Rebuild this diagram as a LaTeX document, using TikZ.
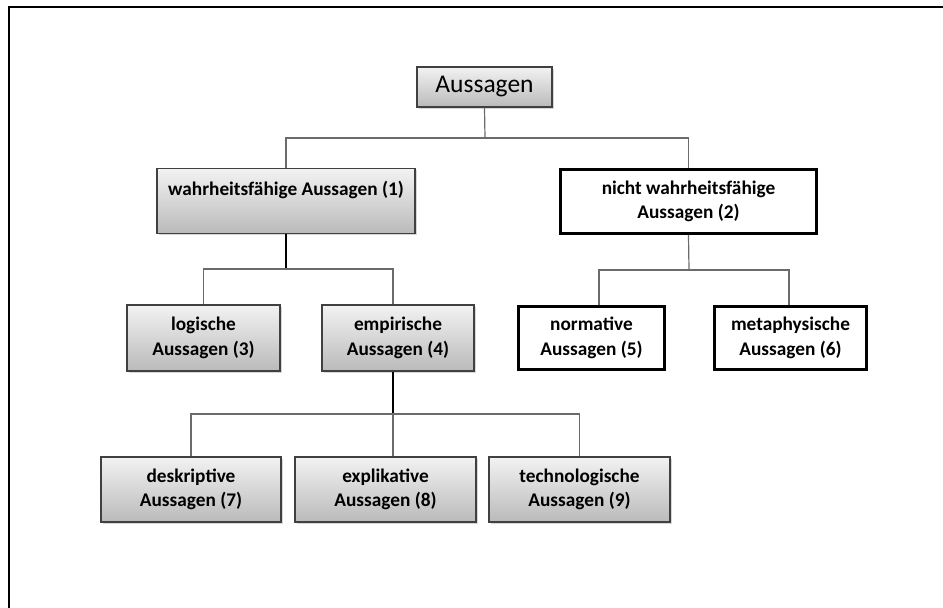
\documentclass[tikz,border=0pt]{standalone}
\usepackage{fontspec}
\setmainfont{Carlito}
\usetikzlibrary{shadows}

\tikzset{
  greybox/.style={draw=black!75, line width=1.3pt, top color=black!5, bottom color=black!27,
    minimum width=#1, inner sep=0pt, align=center,
    font=\fontsize{19.3}{24.5}\selectfont\bfseries,
    drop shadow={shadow xshift=1.5pt, shadow yshift=-1.8pt, fill=black!35, opacity=0.45}},
  whitebox/.style={draw=black, line width=3pt, fill=white,
    minimum width=#1, inner sep=0pt, align=center,
    font=\fontsize{19.3}{24.5}\selectfont\bfseries},
  conn/.style={draw=black!58, line width=1.2pt},
  trunk/.style={draw=black, line width=1.9pt},
}

\begin{document}
\begin{tikzpicture}[x=1pt, y=-1pt]
  \useasboundingbox (0,0) rectangle (943,608);

  % page frame
  \draw[line width=2.6pt] (9,608) -- (9,7) -- (82,7);
  \draw[line width=1.2pt] (82,7) -- (892,7);
  \draw[line width=2.6pt] (892,7) -- (943,7);

  % nodes
  \node[greybox=135pt, minimum height=40pt, font=\fontsize{25.5}{30}\selectfont]
    (top) at (484.5,87) {Aussagen};

  \node[greybox=258pt, minimum height=65pt] (n1) at (286,201)
    {wahrheitsfähige Aussagen (1)\\\mbox{}};
  \node[whitebox=256pt, minimum height=64pt] (n2) at (688.5,201.5)
    {nicht wahrheitsfähige\\Aussagen (2)};

  \node[greybox=153pt, minimum height=66pt] (n3) at (203.5,338) {logische\\Aussagen (3)};
  \node[greybox=152pt, minimum height=66pt] (n4) at (398,338) {empirische\\Aussagen (4)};
  \node[whitebox=146pt, minimum height=63pt] (n5) at (591.5,338) {normative\\Aussagen (5)};
  \node[whitebox=152pt, minimum height=63pt] (n6) at (790.5,338) {metaphysische\\Aussagen (6)};

  \node[greybox=180pt, minimum height=65pt] (n7) at (191,489.5) {deskriptive\\Aussagen (7)};
  \node[greybox=181pt, minimum height=65pt] (n8) at (385.5,489.5) {explikative\\Aussagen (8)};
  \node[greybox=181pt, minimum height=65pt] (n9) at (579.5,489.5) {technologische\\Aussagen (9)};

  % branching points
  \coordinate (b0) at (485,138);
  \coordinate (b1) at (286,269);
  \coordinate (b2) at (689,270);
  \coordinate (b3) at (393,414);

  % connectors
  \draw[conn] (top.south) -- (b0);
  \draw[conn] (n1.north) |- (b0) -| (n2.north);

  \draw[trunk] (n1.south) -- (b1);
  \draw[conn] (n3.north) |- (b1) -| ([xshift=-5pt]n4.north);

  \draw[conn] (n2.south) -- (b2);
  \draw[conn] ([xshift=7.5pt]n5.north) |- (b2) -| ([xshift=-1.5pt]n6.north);

  \draw[trunk] ([xshift=-5pt]n4.south) -- (b3);
  \draw[conn] (n7.north) |- (b3) -| (n9.north);
  \draw[conn] (b3) -- (b3 |- n8.north);
\end{tikzpicture}
\end{document}
